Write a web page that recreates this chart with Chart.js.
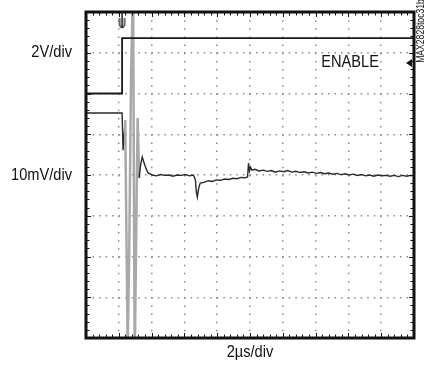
<!DOCTYPE html>
<html>
<head>
<meta charset="utf-8">
<script src="https://cdn.jsdelivr.net/npm/chart.js@4.4.1/dist/chart.umd.min.js"></script>
<style>
  body { margin: 0; background: #fff; }
  canvas { display: block; }
</style>
</head>
<body>
<canvas id="scope" width="425" height="375"></canvas>
<script>
// time in us (2us/div, 10 div), level in divisions (8 div)
const enableTime = [0, 2.2, 2.2, 20];
const enableLevel = [6.0, 6.0, 7.36, 7.36];

const outTime = [0, 2.2, 2.26, 2.39, 2.54, 2.63, 2.75, 2.87, 2.97, 3.06, 3.15, 3.24, 3.33, 3.43, 3.55, 3.67, 3.79,
  4.04, 4.3, 4.55, 4.8, 5.05, 5.3, 5.55, 5.8, 6.05, 6.3, 6.55,
  6.67, 6.73, 6.79, 6.85, 6.91, 6.97,
  7.2, 7.45, 7.7, 7.95, 8.2, 8.45, 8.7, 8.95, 9.2, 9.45, 9.7, 9.85,
  9.91, 9.97, 10.03, 10.12, 10.3, 10.55, 10.8, 11.05, 11.3, 11.55, 11.8, 12.05, 12.3, 12.55, 12.8,
  13.05, 13.3, 13.55, 13.8, 14.05, 14.3, 14.55, 14.8, 15.05, 15.3, 15.55, 15.8, 16.05, 16.3, 16.55,
  16.8, 17.05, 17.3, 17.55, 17.8, 18.05, 18.3, 18.55, 18.8, 19.05, 19.3, 19.55, 19.8, 20];
const outLevel = [5.52, 5.52, 4.61, 5.35, -0.2, 1.91, 6.53, 8.6, -0.6, 2.48, 5.40, 3.93, 4.25, 4.44, 4.29, 4.15, 4.05,
  4.00, 3.98, 4.01, 3.99, 4.00, 3.97, 4.00, 3.99, 4.01, 3.98, 4.00,
  3.88, 3.58, 3.46, 3.63, 3.74, 3.80,
  3.82, 3.86, 3.84, 3.88, 3.87, 3.90, 3.89, 3.92, 3.91, 3.94, 3.93, 3.95,
  4.29, 4.10, 4.19, 4.12, 4.14, 4.10, 4.12, 4.09, 4.11, 4.07, 4.10, 4.08, 4.11, 4.07, 4.09,
  4.06, 4.08, 4.05, 4.07, 4.04, 4.06, 4.03, 4.05, 4.02, 4.04, 4.01, 4.03, 4.00, 4.02, 3.99,
  4.01, 3.98, 4.00, 3.97, 4.00, 3.98, 3.99, 3.97, 3.99, 3.96, 3.99, 3.97, 3.99, 3.98];

const sideLabels = ['2V/div', '10mV/div'];
const sideLabelLevels = [7, 4];
const timeLabel = '2\u00b5s/div';
const enableLabel = 'ENABLE';
const figureId = 'MAX2828toc31b';

const txtFont = '17px "Liberation Sans", Arial, sans-serif';
const squeeze = 0.86;

function pts(xs, ys) {
  return xs.map((v, i) => ({ x: v, y: ys[i] }));
}

function steep(c) {
  return Math.abs(c.p1.y - c.p0.y) > 50;
}

// narrow text: draw with a horizontal squeeze
function narrowText(ctx, t, x, y, align) {
  ctx.save();
  ctx.translate(x, y);
  ctx.scale(squeeze, 1);
  ctx.textAlign = align;
  ctx.fillText(t, 0, 0);
  ctx.restore();
}

const scopeFrame = {
  id: 'scopeFrame',
  afterDatasetsDraw(chart) {
    const { ctx, chartArea: a, scales: { x, y } } = chart;
    ctx.save();
    ctx.strokeStyle = '#111';
    ctx.lineWidth = 1;
    // minor ticks along the frame, 5 per division
    for (let i = 0; i <= 50; i++) {
      const px = Math.round(x.getPixelForValue(i * 0.4)) + 0.5;
      const len = i % 5 === 0 ? 5 : 3.5;
      ctx.beginPath();
      ctx.moveTo(px, a.top); ctx.lineTo(px, a.top + len);
      ctx.moveTo(px, a.bottom); ctx.lineTo(px, a.bottom - len);
      ctx.stroke();
    }
    for (let i = 0; i <= 40; i++) {
      const py = Math.round(y.getPixelForValue(i * 0.2)) + 0.5;
      const len = i % 5 === 0 ? 5 : 3.5;
      ctx.beginPath();
      ctx.moveTo(a.left, py); ctx.lineTo(a.left + len, py);
      ctx.moveTo(a.right, py); ctx.lineTo(a.right - len, py);
      ctx.stroke();
    }
    ctx.lineWidth = 3;
    ctx.strokeRect(a.left, a.top, a.right - a.left, a.bottom - a.top);

    // trigger position marker
    const tx = x.getPixelForValue(enableTime[1]);
    ctx.strokeStyle = '#666';
    ctx.lineWidth = 2;
    ctx.beginPath();
    ctx.moveTo(tx - 2.5, a.top + 6);
    ctx.lineTo(tx - 2.5, a.top + 13);
    ctx.quadraticCurveTo(tx, a.top + 18, tx + 2.5, a.top + 13);
    ctx.lineTo(tx + 2.5, a.top + 6);
    ctx.stroke();
    ctx.strokeStyle = '#222';
    ctx.lineWidth = 1.5;
    ctx.beginPath();
    ctx.moveTo(tx, a.top); ctx.lineTo(tx, a.top + 16);
    ctx.stroke();

    // trigger level arrow
    const ty = y.getPixelForValue(6.75);
    ctx.fillStyle = '#111';
    ctx.beginPath();
    ctx.moveTo(a.right - 8, ty);
    ctx.lineTo(a.right - 2, ty - 4);
    ctx.lineTo(a.right - 2, ty + 4);
    ctx.closePath();
    ctx.fill();
    ctx.restore();
  },
  afterDraw(chart) {
    const { ctx, chartArea: a, scales: { x, y } } = chart;
    ctx.save();
    ctx.fillStyle = '#111';
    ctx.font = txtFont;
    ctx.textBaseline = 'middle';
    sideLabels.forEach((t, i) => {
      narrowText(ctx, t, a.left - 14, y.getPixelForValue(sideLabelLevels[i]), 'right');
    });
    narrowText(ctx, enableLabel, x.getPixelForValue(17.86), y.getPixelForValue(6.77), 'right');
    narrowText(ctx, timeLabel, (a.left + a.right) / 2, a.bottom + 14, 'center');

    ctx.font = '10px "Liberation Sans", Arial, sans-serif';
    ctx.translate(a.right + 7, a.top + 19);
    ctx.rotate(-Math.PI / 2);
    narrowText(ctx, figureId, 0, 0, 'center');
    ctx.restore();
  }
};

new Chart(document.getElementById('scope'), {
  type: 'line',
  data: {
    datasets: [
      {
        label: 'ENABLE',
        data: pts(enableTime, enableLevel),
        borderColor: '#1a1a1a',
        borderWidth: 1.8,
        pointRadius: 0,
        clip: 0
      },
      {
        label: 'output',
        data: pts(outTime, outLevel),
        borderColor: '#2a2a2a',
        borderWidth: 1.4,
        pointRadius: 0,
        clip: 0,
        segment: {
          borderColor: c => steep(c) ? '#a9a9a9' : '#2a2a2a',
          borderWidth: c => steep(c) ? 2.5 : 1.4
        }
      }
    ]
  },
  options: {
    responsive: false,
    animation: false,
    layout: { padding: { left: 86, top: 12, right: 11, bottom: 37 } },
    plugins: { legend: { display: false }, tooltip: { enabled: false } },
    scales: {
      x: {
        type: 'linear', min: 0, max: 20,
        ticks: { display: false, stepSize: 2 },
        grid: { color: '#8a8a8a', lineWidth: 1.5, drawTicks: false },
        border: { display: false, dash: [1.5, 6.65], dashOffset: 0 },
        afterFit: s => { s.height = 0; }
      },
      y: {
        type: 'linear', min: 0, max: 8,
        ticks: { display: false, stepSize: 1 },
        grid: { color: '#8a8a8a', lineWidth: 1.5, drawTicks: false },
        border: { display: false, dash: [1.5, 5.04], dashOffset: 0 },
        afterFit: s => { s.width = 0; }
      }
    }
  },
  plugins: [scopeFrame]
});
</script>
</body>
</html>
